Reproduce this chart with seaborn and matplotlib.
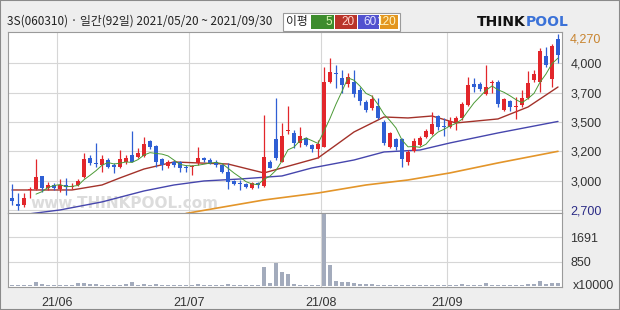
import numpy as np
import pandas as pd
import matplotlib
matplotlib.use("Agg")
import matplotlib.pyplot as plt
import matplotlib.transforms as mtrans
from matplotlib.patches import Rectangle
import seaborn as sns

# ---------------- data ----------------
title_text = "3S(060310) · 일간(92일) 2021/05/20 ~ 2021/09/30"
days = list(range(92))
open_ = [2808, 2755, 2746, 2880, 2891, 3013, 2900, 2930, 2893, 2930,
         2912, 2930, 3006, 3181, 3133, 3114, 3160, 3114, 3098, 3139,
         3206, 3191, 3197, 3335, 3292, 3172, 3105, 3145, 3139, 3098,
         3096, 3130, 3176, 3160, 3145, 3114, 3053, 2967, 2948, 2939,
         2905, 2951, 2921, 3139, 3351, 3145, 3427, 3412, 3319, 3365,
         3298, 3264, 3283, 3875, 3961, 3912, 3857, 3881, 3805, 3691,
         3636, 3660, 3513, 3277, 3351, 3351, 3145, 3243, 3298, 3372,
         3400, 3565, 3473, 3467, 3513, 3544, 3667, 3860, 3860, 3765,
         3869, 3875, 3620, 3706, 3648, 3667, 3728, 3897, 3875, 4118,
         3903, 4271]
high = [2939, 2854, 2854, 2914, 3167, 3013, 2958, 2948, 2983, 2992,
        2948, 2985, 3227, 3206, 3314, 3206, 3179, 3130, 3252, 3206,
        3430, 3268, 3369, 3344, 3298, 3179, 3160, 3160, 3151, 3114,
        3114, 3277, 3188, 3179, 3160, 3123, 3130, 2976, 2976, 2948,
        2958, 2958, 3574, 3160, 3728, 3498, 3657, 3436, 3467, 3372,
        3308, 3344, 4014, 4096, 4035, 3989, 3958, 3989, 3835, 3713,
        3758, 3728, 3528, 3418, 3363, 3363, 3252, 3363, 3381, 3445,
        3605, 3574, 3544, 3559, 3565, 3694, 3921, 3912, 3878, 4035,
        3897, 3897, 3731, 3713, 3743, 3805, 3982, 3989, 4188, 4203,
        4228, 4320]
low = [2746, 2700, 2730, 2808, 2884, 2868, 2884, 2884, 2868, 2838,
       2893, 2921, 2992, 3114, 3098, 3050, 3087, 3038, 3084, 3123,
       3142, 3176, 3191, 3261, 3098, 3068, 3087, 3096, 3053, 3053,
       3022, 3114, 3142, 3123, 3096, 3041, 2891, 2930, 2884, 2900,
       2893, 2900, 2914, 3087, 3160, 3145, 3400, 3268, 3283, 3289,
       3237, 3176, 3277, 3866, 3820, 3774, 3835, 3743, 3667, 3602,
       3620, 3535, 3298, 3271, 3252, 3098, 3114, 3234, 3289, 3363,
       3390, 3436, 3381, 3452, 3436, 3528, 3657, 3789, 3795, 3758,
       3774, 3651, 3611, 3614, 3535, 3651, 3719, 3881, 3789, 4014,
       3829, 4050]
close = [2786, 2740, 2808, 2889, 3006, 2900, 2930, 2900, 2930, 2909,
         2918, 2970, 3167, 3130, 3123, 3167, 3098, 3098, 3167, 3181,
         3145, 3227, 3308, 3277, 3145, 3114, 3145, 3114, 3084, 3084,
         3102, 3176, 3160, 3135, 3114, 3053, 2960, 2939, 2942, 2909,
         2946, 2930, 3185, 3089, 3176, 3381, 3436, 3314, 3381, 3298,
         3261, 3308, 3875, 3973, 3955, 3851, 3927, 3765, 3703, 3620,
         3722, 3544, 3319, 3406, 3283, 3167, 3231, 3335, 3367, 3427,
         3489, 3467, 3464, 3522, 3544, 3676, 3851, 3835, 3811, 3835,
         3875, 3676, 3719, 3651, 3655, 3734, 3872, 3952, 4166, 4035,
         4210, 4127]
volume = [20, 25, 30, 35, 127, 58, 25, 20, 25, 20,
          30, 93, 93, 58, 58, 30, 25, 40, 30, 58,
          127, 30, 58, 30, 58, 25, 20, 25, 20, 25,
          20, 58, 25, 20, 25, 30, 70, 25, 20, 30,
          25, 35, 650, 93, 789, 476, 420, 70, 35, 35,
          30, 40, 2500, 729, 184, 145, 145, 90, 70, 60,
          55, 50, 50, 45, 50, 45, 40, 45, 35, 35,
          40, 30, 35, 30, 35, 70, 40, 30, 35, 115,
          35, 40, 35, 30, 40, 45, 60, 80, 160, 60,
          115, 90]

ma20_day = [0, 10, 15, 18, 22, 27, 31, 36, 40, 42, 45, 51, 54, 57, 61, 62, 66, 70, 74, 81, 86, 91]
ma20_val = [2884, 2884, 2930, 2995, 3077, 3142, 3133, 3123, 3068, 3041, 3087, 3179, 3298, 3418,
            3528, 3556, 3547, 3565, 3501, 3538, 3648, 3832]
ma60_day = [3, 8, 15, 22, 27, 32, 38, 45, 50, 57, 62, 68, 73, 81, 91]
ma60_val = [2665, 2700, 2774, 2875, 2930, 2967, 2985, 3013, 3087, 3160, 3234, 3252, 3317, 3409, 3515]
ma120_day = [29, 42, 51, 59, 66, 73, 81, 91]
ma120_val = [2668, 2792, 2856, 2930, 2976, 3041, 3133, 3240]

price_ticks = [2700, 2970, 3240, 3510, 3780, 4050]
price_labels = ["2,700", "3,000", "3,200", "3,500", "3,700", "4,000"]
last_label = "4,270"
last_value = 4270
vol_ticks = [850, 1691]
vol_labels = ["850", "1691"]
vol_unit = "x10000"
month_pos = [7.5, 29.5, 51.5, 72.5]
month_labels = ["21/06", "21/07", "21/08", "21/09"]
legend_items = ["5", "20", "60", "120"]

# ---------------- style ----------------
sns.set_style("white")
plt.rcParams["font.family"] = ["Liberation Sans", "DejaVu Sans"]

W, H = 620, 310
fig = plt.figure(figsize=(W / 100, H / 100), dpi=100)
fig.patch.set_facecolor("#eeeeee")


def fx(px):
    return px / W


def fy(py):
    return 1 - py / H


UP, DOWN = "#e2262b", "#2f5fd4"
GRID = "#d6d6d6"
SPINE = "#9a9a9a"

axp = fig.add_axes([fx(8), fy(213), (562 - 8) / W, (213 - 31.5) / H])
axv = fig.add_axes([fx(8), fy(287), (562 - 8) / W, (287 - 213) / H])

for ax in (axp, axv):
    ax.set_facecolor("white")
    for s in ax.spines.values():
        s.set_color(SPINE)
        s.set_linewidth(0.8)

# ---------------- price pane ----------------
o = np.array(open_, float)
c = np.array(close, float)
colors = [UP if cc >= oo else DOWN for oo, cc in zip(o, c)]
bottoms = np.minimum(o, c)
heights = np.maximum(np.abs(c - o), 9)

axp.vlines(days, low, high, colors=colors, linewidth=0.9, zorder=3)
axp.bar(days, heights, bottom=bottoms, width=0.75, color=colors, linewidth=0, zorder=4)

ma5 = pd.Series(close, dtype=float).rolling(5).mean()
sns.lineplot(x=days, y=ma5.values, ax=axp, color="#4b9a36", linewidth=0.7, zorder=5, legend=False)
sns.lineplot(x=ma20_day, y=ma20_val, ax=axp, color="#a3322a", linewidth=1.0, zorder=2, legend=False)
sns.lineplot(x=ma60_day, y=ma60_val, ax=axp, color="#4646ad", linewidth=1.0, zorder=2, legend=False)
sns.lineplot(x=ma120_day, y=ma120_val, ax=axp, color="#e3952a", linewidth=1.2, zorder=2, legend=False)

axp.set_xlim(-0.667, 91.667)
axp.set_ylim(2672, 4343)
axp.set_yticks(price_ticks)
axp.set_yticklabels(price_labels)
axp.yaxis.tick_right()
axp.tick_params(axis="y", length=0, pad=6, labelsize=9, labelcolor="#333333")
axp.get_yticklabels()[0].set_color("#2b2b86")
axp.set_xticks(month_pos)
axp.tick_params(axis="x", length=0, labelbottom=False)
axp.grid(True, color=GRID, linewidth=0.8)
axp.set_axisbelow(True)
axp.set_xlabel("")
axp.set_ylabel("")

tr = mtrans.blended_transform_factory(axp.transAxes, axp.transData)
axp.text(1 + 8 / 554, last_value, last_label, transform=tr, ha="left", va="center",
         fontsize=9, color="#c8842f")

axp.text((30 - 8) / 554, (213 - 204) / 181.5, "www.THINKPOOL.com", transform=axp.transAxes,
         fontsize=11, fontweight="bold", color="#dcdcdc", ha="left", va="center", zorder=1,
         family=["DejaVu Sans"])

# ---------------- volume pane ----------------
sns.barplot(x=days, y=volume, ax=axv, native_scale=True, color="#a3abbc", width=0.7,
            errorbar=None, saturation=1, linewidth=0, zorder=3)
axv.set_xlim(-0.667, 91.667)
axv.set_ylim(-35, 2540)
axv.set_yticks(vol_ticks)
axv.set_yticklabels(vol_labels)
axv.yaxis.tick_right()
axv.tick_params(axis="y", length=0, pad=6, labelsize=9, labelcolor="#333333")
axv.set_xticks(month_pos)
axv.set_xticklabels(month_labels)
axv.tick_params(axis="x", length=0, pad=7, labelsize=9, labelcolor="#333333")
axv.grid(True, color=GRID, linewidth=0.8)
axv.set_axisbelow(True)
axv.set_xlabel("")
axv.set_ylabel("")
trv = mtrans.blended_transform_factory(axv.transAxes, axv.transData)
axv.text(1 + 11 / 554, 0, vol_unit, transform=trv, ha="left", va="center", fontsize=9, color="#333333")

# ---------------- header ----------------
fig.text(fx(7), fy(21.5), title_text, ha="left", va="center", fontsize=8.5, color="#222222",
         family=["Noto Sans CJK KR", "DejaVu Sans"])

fig.patches.append(Rectangle((fx(283), fy(31)), (400 - 283) / W, 18 / H, transform=fig.transFigure,
                             facecolor="white", edgecolor="#9a9a9a", linewidth=0.8))
fig.text(fx(297), fy(21.5), "이평", ha="center", va="center", fontsize=8.5, color="#222222",
         family=["Noto Sans CJK KR", "DejaVu Sans"])
box_specs = [(311, 334, "#3d8c2d", "#d8f5b0"), (335, 357, "#b9342a", "#ffd6d0"),
             (358, 379, "#5252cf", "#e4e4ff"), (380, 398, "#e3961f", "#fff6c8")]
for lab, (x0, x1, fc, tc) in zip(legend_items, box_specs):
    fig.patches.append(Rectangle((fx(x0), fy(29)), (x1 - x0) / W, 14 / H, transform=fig.transFigure,
                                 facecolor=fc, edgecolor="none"))
    fig.text(fx(x1 - 2), fy(22), lab, ha="right", va="center", fontsize=8.5, color=tc)

fig.text(fx(526), fy(21.5), "THINK", ha="right", va="center", fontsize=10, fontweight="bold",
         color="#111111", family=["DejaVu Sans"])
fig.text(fx(526), fy(21.5), "POOL", ha="left", va="center", fontsize=10, fontweight="bold",
         color="#3b72d8", family=["DejaVu Sans"])

fig.patches.append(Rectangle((0, 0), 1, 1, transform=fig.transFigure, facecolor="none",
                             edgecolor="#8a8a8a", linewidth=1.5))

fig.savefig("out.png", dpi=100, facecolor=fig.get_facecolor())
